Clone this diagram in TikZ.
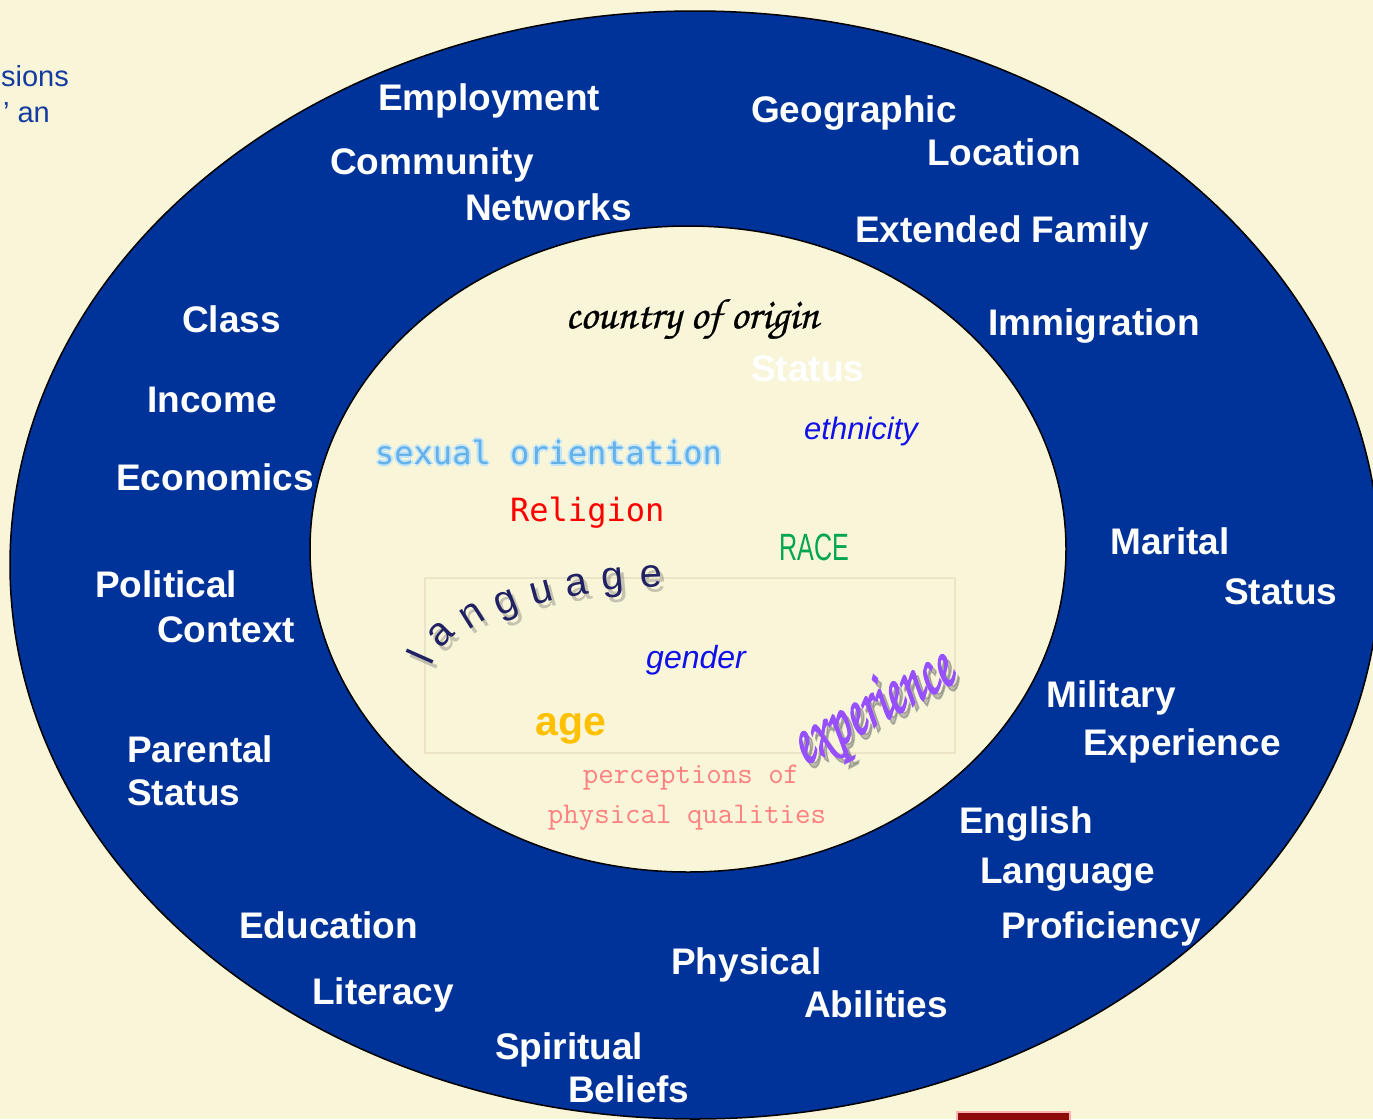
\documentclass[tikz,border=0pt]{standalone}
\usepackage{fontspec}
\usepackage{graphicx}
\setmainfont{Liberation Sans}
\newfontfamily\monoA{DejaVu Sans Mono}
\newfontfamily\chorus[FakeBold=0.6]{TeX Gyre Chorus}
\newfontfamily\chorusB[FakeBold=2.5]{TeX Gyre Chorus}
\definecolor{bgc}{RGB}{248,245,216}
\definecolor{navy}{RGB}{0,51,153}
\definecolor{framec}{RGB}{236,228,198}
\definecolor{skyc}{RGB}{102,176,232}
\definecolor{glowc}{RGB}{190,228,250}
\definecolor{langc}{RGB}{32,34,100}
\definecolor{ethc}{RGB}{16,16,235}
\definecolor{racec}{RGB}{0,166,81}
\definecolor{agec}{RGB}{255,192,0}
\definecolor{perc}{RGB}{255,128,128}
\definecolor{expc}{RGB}{150,80,255}
\definecolor{darkredc}{RGB}{140,10,10}
\definecolor{toptxt}{RGB}{20,60,160}
\tikzset{
  lab/.style={text=white, font=\fontsize{37}{40}\selectfont\bfseries, inner sep=0pt, anchor=base west},
  lett/.style={text=langc, font=\fontsize{40}{42}\selectfont, inner sep=0pt},
  lettsh/.style={text=black!60, opacity=0.35, font=\fontsize{40}{42}\selectfont, inner sep=0pt},
}
\begin{document}
\begin{tikzpicture}[x=1pt,y=-1pt]
\useasboundingbox (0,0) rectangle (1373,1119);
\clip (0,0) rectangle (1373,1119);
\fill[bgc] (0,0) rectangle (1373,1119);
% top-left fragment
\node[text=toptxt, font=\fontsize{29}{32}\selectfont, inner sep=0pt, anchor=east] (tl1) at (69,76) {sions};
\node[text=toptxt, font=\fontsize{29}{32}\selectfont, inner sep=0pt, anchor=east] (tl2) at (50,113) {’ an};
% red box
\draw[draw=red!30, line width=1.5pt, fill=darkredc] (957,1112) rectangle (1070,1130);
% ellipses
\draw[line width=1.5pt, fill=navy] (695,565) ellipse [x radius=685, y radius=554];
\draw[line width=1.5pt, fill=bgc] (688,549) ellipse [x radius=378, y radius=323];
% faint frame
\draw[framec, line width=1.5pt] (425,578) rectangle (955,753);
% outer labels (y = baseline)
\node[lab] (employment) at (378,110.5) {Employment};
\node[lab] (community) at (330,174.5) {Community};
\node[lab] (networks) at (465,220.5) {Networks};
\node[lab] (geographic) at (751,122.5) {Geographic};
\node[lab] (location) at (927,165.5) {Location};
\node[lab] (extfam) at (855,242.5) {Extended Family};
\node[lab] (immigration) at (988,335.5) {Immigration};
\node[lab] (class) at (182,332.5) {Class};
\node[lab] (income) at (147,412.5) {Income};
\node[lab] (economics) at (116,490.5) {Economics};
\node[lab] (political) at (95,597.5) {Political};
\node[lab] (context) at (157,642.5) {Context};
\node[lab] (parental) at (127,762.5) {Parental};
\node[lab] (pstatus) at (127,805.5) {Status};
\node[lab] (marital) at (1110,554.5) {Marital};
\node[lab] (mstatus) at (1224,604.5) {Status};
\node[lab] (military) at (1046,707.5) {Military};
\node[lab] (experience) at (1083,755.5) {Experience};
\node[lab] (english) at (959,833.5) {English};
\node[lab] (elanguage) at (980,883.5) {Language};
\node[lab] (proficiency) at (1001,938.5) {Proficiency};
\node[lab] (physical) at (671,974.5) {Physical};
\node[lab] (abilities) at (804,1017.5) {Abilities};
\node[lab] (education) at (239,938.5) {Education};
\node[lab] (literacy) at (312,1004.5) {Literacy};
\node[lab] (spiritual) at (495,1059.5) {Spiritual};
\node[lab] (beliefs) at (568,1102.5) {Beliefs};
\node[lab] (istatus) at (751,381.5) {Status};
% inner texts
\node[inner sep=0pt, text=black] (origin) at (692,319) {\resizebox{253pt}{!}{\chorus country of origin}};
\foreach \dx/\dy in {-2/0,2/0,0/-2,0/2}{
  \node[text=glowc, font=\fontsize{32}{35}\selectfont\monoA, inner sep=0pt, anchor=west] at (375+\dx,452+\dy) {sexual orientation};
}
\node[text=skyc, font=\fontsize{32}{35}\selectfont\monoA, inner sep=0pt, anchor=west] (sexor) at (375,452) {sexual orientation};
\node[text=red, font=\fontsize{32}{35}\selectfont\monoA, inner sep=0pt, anchor=west] (religion) at (510,513) {Religion};
\node[text=ethc, font=\fontsize{31}{34}\selectfont\itshape, inner sep=0pt, anchor=west] (ethnicity) at (804,431) {ethnicity};
\node[text=racec, font=\fontsize{38}{40}\selectfont, inner sep=0pt] (race) at (814,547) {\scalebox{0.66}[1]{RACE}};
\node[text=ethc, font=\fontsize{32}{35}\selectfont\itshape, inner sep=0pt, anchor=west] (gender) at (646,660) {gender};
\node[text=agec, font=\fontsize{41}{44}\selectfont\bfseries, inner sep=0pt, anchor=base west] (age) at (535,735) {age};
\node[text=perc, font=\fontsize{30}{33}\selectfont\ttfamily, inner sep=0pt] (perc1) at (691,778) {perceptions of};
\node[text=perc, font=\fontsize{30}{33}\selectfont\ttfamily, inner sep=0pt] (perc2) at (687,818) {physical qualities};
% language on an arc
\foreach \ch/\x/\y/\r [count=\i] in {l/420/657/66, a/441/634/45, n/472/615/32, g/507/606/22, u/542/593/15, a/577/585/10, g/613/583/5, e/651/577/2}{
  \node[lettsh, rotate=\r] at (\x+4,\y+5) {\ch};
  \node[lett, rotate=\r] (lang\i) at (\x,\y) {\ch};
}
% experience
\node[inner sep=0pt, rotate=29, text=black!60, opacity=0.4] at (878,716) {\scalebox{1}[1.5]{\resizebox{175pt}{!}{\chorusB experience}}};
\node[inner sep=0pt, rotate=29, text=expc] (exper) at (874,711) {\scalebox{1}[1.5]{\resizebox{175pt}{!}{\chorusB experience}}};
\end{tikzpicture}
\end{document}
